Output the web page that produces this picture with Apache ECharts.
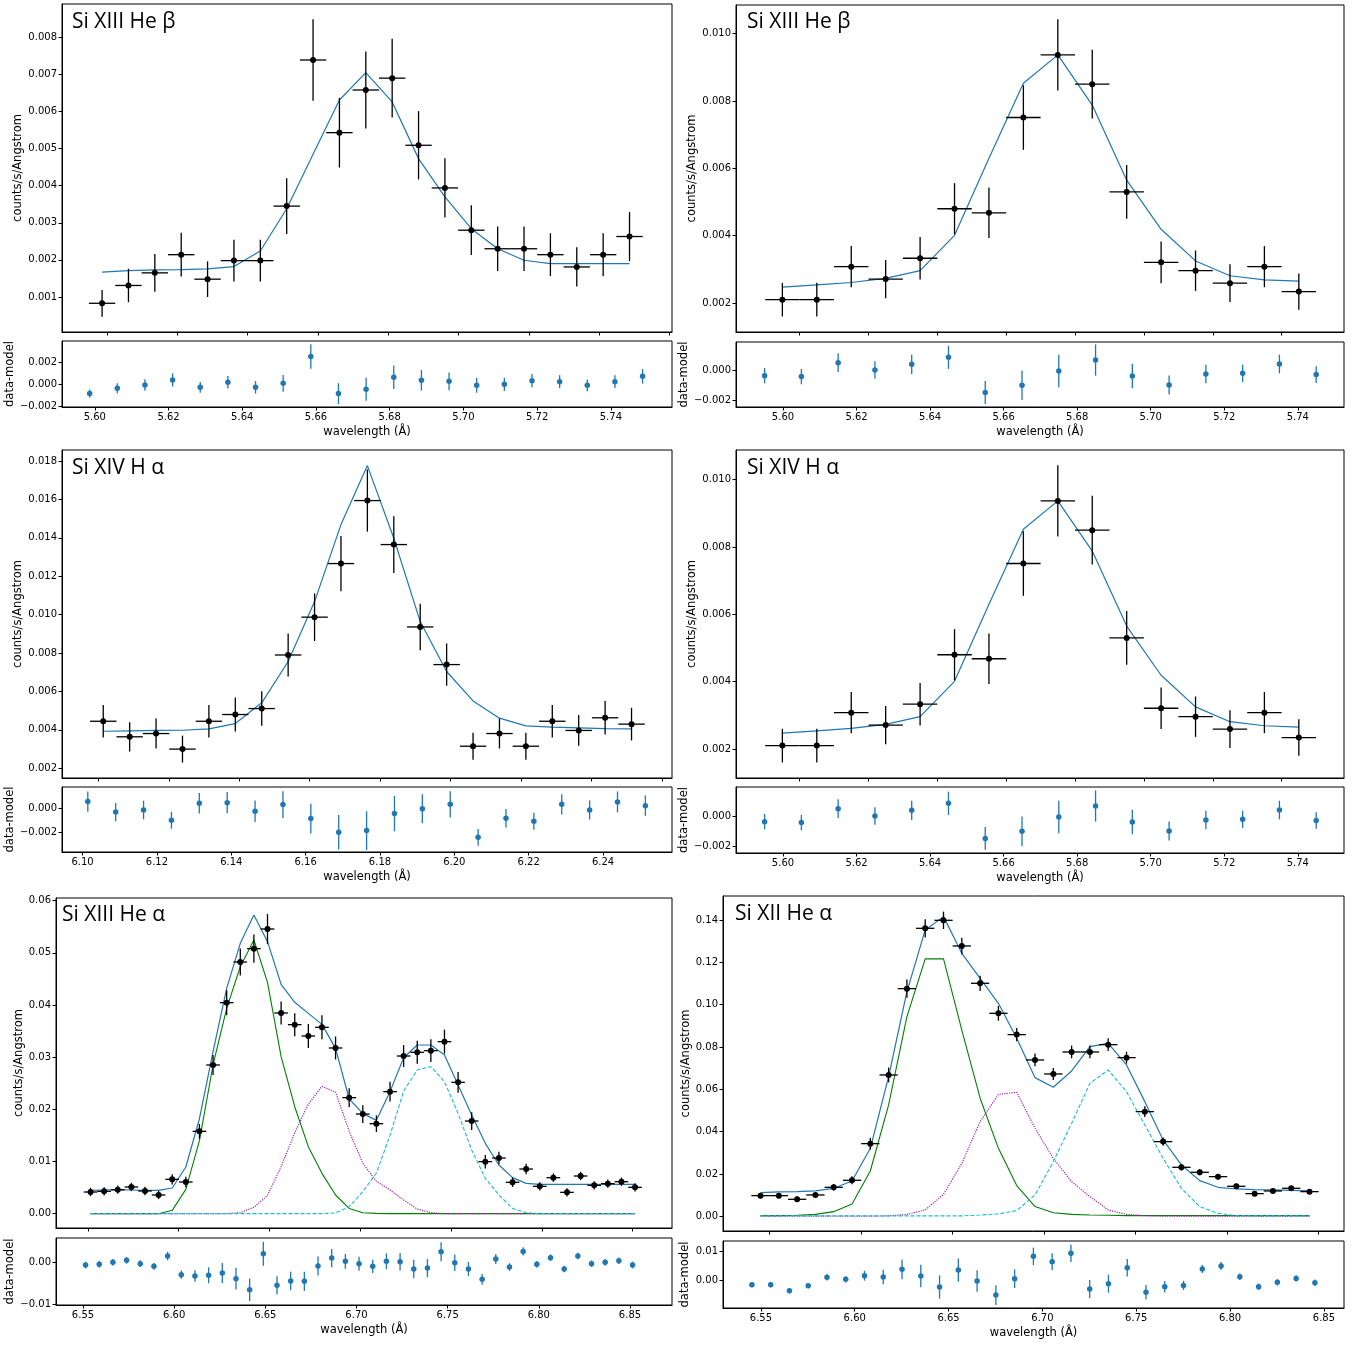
<!DOCTYPE html>
<html><head><meta charset="utf-8">
<script src="https://cdn.jsdelivr.net/npm/echarts@6/dist/echarts.min.js"></script>
<style>html,body{margin:0;padding:0;background:#fff}#c{width:1363px;height:1345px}</style>
</head><body><div id="c"></div>
<script>
// ---------------- DATA ----------------
// Panel 1 (top-left): Si XIII He beta
const TL_x = [5.5986,5.6061,5.6136,5.6211,5.6286,5.6361,5.6436,5.6511,5.6586,5.6661,5.6736,5.6811,5.6886,5.6961,5.7036,5.7111,5.7186,5.7261,5.7336,5.7411,5.7486];
const TL_y = [0.00083,0.00131,0.00165,0.00214,0.00148,0.00198,0.00198,0.00345,0.00739,0.00543,0.00658,0.0069,0.00509,0.00394,0.0028,0.0023,0.0023,0.00214,0.00181,0.00214,0.00263];
const TL_err = [0.00036,0.00045,0.00051,0.00059,0.00048,0.00056,0.00056,0.00075,0.0011,0.00094,0.00104,0.00106,0.00092,0.0008,0.00067,0.0006,0.0006,0.00058,0.00053,0.00058,0.00066];
const TL_model = [0.00167,0.00171,0.00173,0.00174,0.00176,0.00182,0.00224,0.00338,0.00485,0.00631,0.00705,0.00626,0.00473,0.0037,0.00284,0.0023,0.00199,0.0019,0.0019,0.0019,0.0019];
const TL_resid = [-0.00084,-0.00036,-0.00006,0.00039,-0.00027,0.00018,-0.00027,0.00009,0.0025,-0.00084,-0.00045,0.00063,0.00036,0.00027,-0.00009,0.0,0.00033,0.00024,-0.00009,0.00024,0.00072];
const TL_mainXTicks = [5.60,5.62,5.64,5.66,5.68,5.70,5.72,5.74,5.76];
const TL_resXTicks = [5.60,5.62,5.64,5.66,5.68,5.70,5.72,5.74];
const TL_mainYTicks = [0.001,0.002,0.003,0.004,0.005,0.006,0.007,0.008];
const TL_resYTicks = [-0.002,0,0.002];

// Panel 2 (top-right): Si XIII He beta
const TR_x = [5.595,5.605,5.615,5.625,5.635,5.645,5.655,5.665,5.675,5.685,5.695,5.705,5.715,5.725,5.735,5.745];
const TR_y = [0.0021,0.0021,0.00308,0.00271,0.00333,0.0048,0.00468,0.00751,0.00937,0.0085,0.0053,0.00321,0.00296,0.00259,0.00308,0.00234];
const TR_err = [0.0005,0.0005,0.00061,0.00057,0.00063,0.00076,0.00075,0.00096,0.00106,0.00102,0.0008,0.00062,0.0006,0.00056,0.00061,0.00054];
const TR_model = [0.00247,0.00254,0.00261,0.00273,0.00296,0.00401,0.0063,0.00853,0.00937,0.00788,0.00565,0.00419,0.00325,0.00281,0.00269,0.00265];
const TR_resid = [-0.00037,-0.00043,0.00048,0.0,0.00037,0.00083,-0.00146,-0.001,-0.00007,0.00065,-0.00039,-0.00098,-0.00026,-0.00022,0.00039,-0.0003];
const TR_mainXTicks = [5.60,5.62,5.64,5.66,5.68,5.70,5.72,5.74];
const TR_resXTicks = [5.60,5.62,5.64,5.66,5.68,5.70,5.72,5.74];
const TR_mainYTicks = [0.002,0.004,0.006,0.008,0.010];
const TR_resYTicks = [-0.002,0];

// Panel 3 (middle-left): Si XIV H alpha
const ML_x = [6.1014,6.1089,6.1164,6.1239,6.1314,6.1389,6.1464,6.1539,6.1614,6.1689,6.1764,6.1839,6.1914,6.1989,6.2064,6.2139,6.2214,6.2289,6.2364,6.2439,6.2514];
const ML_y = [0.00445,0.00364,0.00381,0.003,0.00445,0.0048,0.00511,0.0079,0.00987,0.01266,0.01594,0.01365,0.00936,0.0074,0.00315,0.00381,0.00315,0.00445,0.00397,0.00463,0.0043];
const ML_err = [0.00085,0.00076,0.00078,0.0007,0.00085,0.00089,0.0009,0.00112,0.00124,0.00144,0.00162,0.00148,0.00121,0.0011,0.0007,0.00078,0.0007,0.00085,0.0008,0.00087,0.00085];
const ML_model = [0.00393,0.00395,0.00397,0.00398,0.00405,0.00433,0.00541,0.00756,0.01068,0.01469,0.01776,0.01398,0.00964,0.00704,0.00551,0.00461,0.00421,0.00414,0.00411,0.00407,0.00405];
const ML_resid = [0.00056,-0.00031,-0.00014,-0.001,0.00042,0.00047,-0.00025,0.00031,-0.00086,-0.002,-0.00186,-0.00044,-0.00003,0.00033,-0.00242,-0.00083,-0.00108,0.00033,-0.00014,0.00053,0.00022];
const ML_mainXTicks = [6.10,6.12,6.14,6.16,6.18,6.20,6.22,6.24,6.26];
const ML_resXTicks = [6.10,6.12,6.14,6.16,6.18,6.20,6.22,6.24];
const ML_mainYTicks = [0.002,0.004,0.006,0.008,0.010,0.012,0.014,0.016,0.018];
const ML_resYTicks = [-0.002,0];

// Panel 4 (middle-right): Si XIV H alpha (same values as panel 2)
const MR_x = [5.595,5.605,5.615,5.625,5.635,5.645,5.655,5.665,5.675,5.685,5.695,5.705,5.715,5.725,5.735,5.745];
const MR_y = [0.0021,0.0021,0.00308,0.00271,0.00333,0.0048,0.00468,0.00751,0.00937,0.0085,0.0053,0.00321,0.00296,0.00259,0.00308,0.00234];
const MR_err = [0.0005,0.0005,0.00061,0.00057,0.00063,0.00076,0.00075,0.00096,0.00106,0.00102,0.0008,0.00062,0.0006,0.00056,0.00061,0.00054];
const MR_model = [0.00247,0.00254,0.00261,0.00273,0.00296,0.00401,0.0063,0.00853,0.00937,0.00788,0.00565,0.00419,0.00325,0.00281,0.00269,0.00265];
const MR_resid = [-0.00037,-0.00043,0.00048,0.0,0.00037,0.00083,-0.00146,-0.001,-0.00007,0.00065,-0.00039,-0.00098,-0.00026,-0.00022,0.00039,-0.0003];
const MR_mainYTicks = [0.002,0.004,0.006,0.008,0.010];

// Panel 5 (bottom-left): Si XIII He alpha
const BL_x = [6.5514,6.5589,6.5664,6.5739,6.5814,6.5889,6.5964,6.6039,6.6114,6.6189,6.6264,6.6339,6.6414,6.6489,6.6564,6.6639,6.6714,6.6789,6.6864,6.6939,6.7014,6.7089,6.7164,6.7239,6.7314,6.7389,6.7464,6.7539,6.7614,6.7689,6.7764,6.7839,6.7914,6.7989,6.8064,6.8139,6.8214,6.8289,6.8364,6.8439,6.8514];
const BL_y = [0.00415,0.00428,0.0046,0.00511,0.00435,0.00358,0.00658,0.00607,0.01578,0.0285,0.04045,0.04824,0.0508,0.05457,0.03847,0.03623,0.03406,0.03572,0.03176,0.02224,0.0191,0.01725,0.02339,0.03022,0.03093,0.03125,0.03297,0.02518,0.01776,0.00997,0.01067,0.00601,0.00856,0.00524,0.0069,0.00409,0.00722,0.00543,0.00575,0.00613,0.00505];
const BL_err = [0.0008,0.0008,0.0008,0.0008,0.0008,0.0008,0.001,0.001,0.0014,0.0019,0.0024,0.0026,0.0027,0.0029,0.0022,0.0022,0.0023,0.0023,0.0022,0.0018,0.0017,0.0016,0.0019,0.0021,0.0022,0.0022,0.0023,0.002,0.0017,0.0013,0.0012,0.0009,0.001,0.0008,0.0008,0.0008,0.0008,0.0008,0.0008,0.0008,0.0008];
const BL_model = [0.00447,0.00454,0.0046,0.00454,0.00447,0.00447,0.00492,0.00895,0.0182,0.03105,0.0432,0.05182,0.05725,0.05214,0.04396,0.04051,0.0384,0.03629,0.03169,0.02198,0.01923,0.01789,0.02339,0.0299,0.03233,0.03233,0.03042,0.02466,0.01891,0.01348,0.00933,0.0069,0.00581,0.00562,0.00562,0.00562,0.00562,0.00562,0.00562,0.00562,0.00562];
const BL_green = [0,0,0,0,0,0,0.00064,0.00466,0.014,0.0285,0.03936,0.04735,0.05246,0.04435,0.0301,0.0205,0.01284,0.00773,0.00358,0.001,0.00019,0.00005,0,0,0,0,0,0,0,0,0,0,0,0,0,0,0,0,0,0,0];
const BL_purple = [0,0,0,0,0,0,0,0,0,0,0,0.00019,0.00121,0.0035,0.009,0.0155,0.021,0.0244,0.0233,0.0158,0.00965,0.0062,0.00454,0.00262,0.00089,0.00019,0,0,0,0,0,0,0,0,0,0,0,0,0,0,0];
const BL_cyan = [0,0,0,0,0,0,0,0,0,0,0,0,0,0,0,0,0,0,0.00013,0.00134,0.00422,0.0078,0.01500,0.02350,0.02754,0.02818,0.0253,0.01923,0.0122,0.00677,0.00358,0.001,0.00019,0,0,0,0,0,0,0,0];
const BL_resid = [-0.00056,-0.0004,0.00008,0.00056,-0.00024,-0.00088,0.0016,-0.00288,-0.0032,-0.00304,-0.00248,-0.00384,-0.00648,0.00216,-0.00544,-0.0044,-0.00448,-0.0008,0.00112,0.00032,-0.00024,-0.00088,0.00032,0.00024,-0.00152,-0.00128,0.00264,0.0,-0.00152,-0.004,0.00088,-0.00104,0.00272,-0.0004,0.0012,-0.00152,0.0016,-0.00024,0.00008,0.00048,-0.00056];
const BL_mainXTicks = [6.55,6.60,6.65,6.70,6.75,6.80,6.85];
const BL_resXTicks = [6.55,6.60,6.65,6.70,6.75,6.80,6.85];
const BL_mainYTicks = [0,0.01,0.02,0.03,0.04,0.05,0.06];
const BL_resYTicks = [-0.01,0];

// Panel 6 (bottom-right): Si XII He alpha
const BR_x = [6.5452,6.5552,6.5652,6.5752,6.5852,6.5952,6.6052,6.6152,6.6252,6.6352,6.6452,6.6552,6.6652,6.6752,6.6852,6.6952,6.7052,6.7152,6.7252,6.7352,6.7452,6.7552,6.7652,6.7752,6.7852,6.7952,6.8052,6.8152,6.8252,6.8352,6.8452];
const BR_y = [0.00976,0.00976,0.00803,0.01008,0.0137,0.01701,0.03433,0.06677,0.10756,0.13606,0.13984,0.12772,0.11008,0.0959,0.08583,0.07386,0.06724,0.07764,0.07764,0.0811,0.07496,0.04945,0.03528,0.02315,0.02079,0.01874,0.01417,0.01071,0.01197,0.01323,0.01165];
const BR_err = [0.0013,0.0013,0.0013,0.0013,0.0016,0.0019,0.0028,0.0035,0.0043,0.0043,0.0041,0.0039,0.0036,0.0035,0.0031,0.003,0.0028,0.003,0.003,0.003,0.0028,0.0025,0.002,0.0016,0.0014,0.0013,0.0013,0.0011,0.0011,0.0011,0.0011];
const BR_model = [0.01118,0.0115,0.01165,0.01197,0.01323,0.01669,0.03213,0.06598,0.10614,0.13528,0.14157,0.12425,0.11244,0.10063,0.08409,0.06551,0.06094,0.06866,0.08016,0.08173,0.0715,0.05417,0.03606,0.02425,0.01685,0.0137,0.01291,0.0126,0.01244,0.01228,0.01197];
const BR_green = [0.0003,0.0003,0.0005,0.0009,0.0022,0.0058,0.0214,0.0526,0.0943,0.1216,0.1216,0.088,0.0558,0.0321,0.0145,0.0046,0.0017,0.0009,0.0006,0.0005,0.0003,0.0003,0.0003,0.0003,0.0003,0.0003,0.0003,0.0003,0.0003,0.0003,0.0003];
const BR_purple = [0.0001,0.0001,0.0001,0.0001,0.0001,0.0001,0.0001,0.0002,0.0009,0.003,0.0104,0.025,0.0447,0.0576,0.0586,0.0416,0.0274,0.0164,0.0093,0.003,0.0009,0.0003,0.0001,0.0001,0.0001,0.0001,0.0001,0.0001,0.0001,0.0001,0.0001];
const BR_cyan = [0.0002,0.0002,0.0002,0.0002,0.0002,0.0002,0.0002,0.0002,0.0002,0.0002,0.0002,0.0002,0.0006,0.0011,0.0027,0.0101,0.0258,0.0439,0.0628,0.0691,0.0589,0.0432,0.0274,0.0132,0.0046,0.0014,0.0003,0.0002,0.0002,0.0002,0.0002];
const BR_resid = [-0.00138,-0.00138,-0.00345,-0.00172,0.00115,0.00046,0.00172,0.00126,0.00391,0.00161,-0.00218,0.00368,-0.00011,-0.00494,0.00069,0.00839,0.00655,0.00943,-0.00287,-0.00103,0.00448,-0.00402,-0.00207,-0.00161,0.00402,0.00506,0.00138,-0.00207,-0.00057,0.0008,-0.00069];
const BR_residErr = [0.0009,0.0009,0.0009,0.0009,0.0011,0.0011,0.0017,0.0025,0.0034,0.0039,0.004,0.004,0.0037,0.0034,0.0032,0.003,0.0029,0.003,0.0031,0.0031,0.003,0.0025,0.002,0.0016,0.0014,0.0014,0.0011,0.0011,0.0011,0.0011,0.0011];
const BR_mainXTicks = [6.55,6.60,6.65,6.70,6.75,6.80,6.85];
const BR_resXTicks = [6.55,6.60,6.65,6.70,6.75,6.80,6.85];
const BR_mainYTicks = [0,0.02,0.04,0.06,0.08,0.10,0.12,0.14];
const BR_resYTicks = [0,0.01];

// ---------------- CHART ----------------
const C0 = '#1f77b4';
const grids = [], xAxes = [], yAxes = [], series = [], graphics = [];
const TICK_FONT = 'DejaVu Sans';

function fmt(d) {
  return function (v) {
    const s = Math.abs(v).toFixed(d);
    return (v < -1e-12 ? '\u2212' : '') + s;
  };
}
function addGrid(b) {
  grids.push({left: b[0], top: b[1], width: b[2] - b[0], height: b[3] - b[1], show: true,
    borderColor: '#000', borderWidth: 1, backgroundColor: 'transparent'});
  return grids.length - 1;
}
function addX(gi, r, ticks, dec, showLabels, name) {
  xAxes.push({type: 'value', gridIndex: gi, min: r[0], max: r[1], position: 'bottom',
    axisLine: {show: true, onZero: false, lineStyle: {color: '#000', width: 1}},
    axisTick: {show: true, inside: false, length: 3.5, customValues: ticks, lineStyle: {color: '#000', width: 1}},
    axisLabel: {show: showLabels, customValues: ticks, formatter: fmt(dec), fontFamily: TICK_FONT, fontSize: 10, color: '#000', margin: 5},
    splitLine: {show: false},
    name: name || '', nameLocation: 'middle', nameGap: 19,
    nameTextStyle: {fontFamily: TICK_FONT, fontSize: 11.5, color: '#000'}});
  return xAxes.length - 1;
}
function addY(gi, r, ticks, dec, name, gap) {
  yAxes.push({type: 'value', gridIndex: gi, min: r[0], max: r[1], position: 'left',
    axisLine: {show: true, onZero: false, lineStyle: {color: '#000', width: 1}},
    axisTick: {show: true, inside: false, length: 3.5, customValues: ticks, lineStyle: {color: '#000', width: 1}},
    axisLabel: {show: true, customValues: ticks, formatter: fmt(dec), fontFamily: TICK_FONT, fontSize: 10, color: '#000', margin: 5},
    splitLine: {show: false},
    name: name, nameLocation: 'middle', nameGap: gap, nameRotate: 90,
    nameTextStyle: {fontFamily: TICK_FONT, fontSize: 11.5, color: '#000'}});
  return yAxes.length - 1;
}
function pairs(xs, ys) { return xs.map((v, i) => [v, ys[i]]); }
function lineSeries(xi, yi, xs, ys, color, type, width, z) {
  series.push({type: 'line', xAxisIndex: xi, yAxisIndex: yi, data: pairs(xs, ys), symbol: 'none',
    silent: true, animation: false, z: z, clip: true,
    lineStyle: {color: color, width: width, type: type}});
}
function errSeries(xi, yi, xs, ys, es, xe, color, lw) {
  series.push({type: 'custom', xAxisIndex: xi, yAxisIndex: yi, silent: true, animation: false, z: 4,
    data: xs.map((v, i) => [v, ys[i], es[i], xe]),
    encode: {x: 0, y: 1},
    renderItem: function (params, api) {
      const x = api.value(0), y = api.value(1), e = api.value(2), h = api.value(3);
      const p1 = api.coord([x, y - e]), p2 = api.coord([x, y + e]);
      const ch = [{type: 'line', shape: {x1: p1[0], y1: p1[1], x2: p2[0], y2: p2[1]},
        style: {stroke: color, lineWidth: lw}}];
      if (h > 0) {
        const q1 = api.coord([x - h, y]), q2 = api.coord([x + h, y]);
        ch.push({type: 'line', shape: {x1: q1[0], y1: q1[1], x2: q2[0], y2: q2[1]},
          style: {stroke: color, lineWidth: lw}});
      }
      return {type: 'group', children: ch};
    }});
}
function scatter(xi, yi, xs, ys, color, size) {
  series.push({type: 'scatter', xAxisIndex: xi, yAxisIndex: yi, data: pairs(xs, ys), symbol: 'circle',
    symbolSize: size, silent: true, animation: false, z: 5, itemStyle: {color: color, opacity: 1}});
}
function title(x, y, text) {
  graphics.push({type: 'text', x: x, y: y, z: 10, silent: true,
    style: {text: text, fontFamily: 'Open Sans', fontSize: 21, fill: '#000',
      align: 'left', verticalAlign: 'middle', textAlign: 'left', textVerticalAlign: 'middle'}});
}

function panel(c) {
  const gm = addGrid(c.mainBox), gr = addGrid(c.resBox);
  const xm = addX(gm, c.mxr, c.mxt, 2, false, '');
  const ym = addY(gm, c.myr, c.myt, c.mdec, 'counts/s/Angstrom', c.mGap);
  const xr = addX(gr, c.rxr, c.rxt, 2, true, 'wavelength (\u00c5)');
  const yr = addY(gr, c.ryr, c.ryt, c.rdec, 'data-model', c.rGap);
  if (c.green) lineSeries(xm, ym, c.x, c.green, '#008000', 'solid', 1.1, 1);
  if (c.purple) lineSeries(xm, ym, c.x, c.purple, '#a020b0', 'dotted', 1.2, 1);
  if (c.cyan) lineSeries(xm, ym, c.x, c.cyan, '#17becf', [4, 2], 1.1, 1);
  lineSeries(xm, ym, c.x, c.model, C0, 'solid', 1.2, 2);
  errSeries(xm, ym, c.x, c.y, c.err, c.xe, '#000', 1.3);
  scatter(xm, ym, c.x, c.y, '#000', 6);
  errSeries(xr, yr, c.x, c.resid, c.rerr || c.err, 0, C0, 1.3);
  scatter(xr, yr, c.x, c.resid, C0, 5.5);
  title(c.tpos[0], c.tpos[1], c.title);
}

panel({title: 'Si XIII He \u03b2', tpos: [72, 22],
  mainBox: [62, 4, 672, 332], resBox: [62, 341, 672, 407],
  mxr: [5.5872, 5.76068], mxt: TL_mainXTicks, myr: [0.0000556, 0.008899], myt: TL_mainYTicks, mdec: 3, mGap: 37,
  rxr: [5.5911, 5.75658], rxt: TL_resXTicks, ryr: [-0.002045, 0.003901], ryt: TL_resYTicks, rdec: 3, rGap: 46,
  x: TL_x, y: TL_y, err: TL_err, xe: 0.00375, model: TL_model, resid: TL_resid});

panel({title: 'Si XIII He \u03b2', tpos: [747, 22],
  mainBox: [736, 5, 1344, 332], resBox: [736, 342, 1344, 407],
  mxr: [5.58153, 5.75812], mxt: TR_mainXTicks, myr: [0.001139, 0.010852], myt: TR_mainYTicks, mdec: 3, mGap: 36,
  rxr: [5.58722, 5.75256], rxt: TR_resXTicks, ryr: [-0.002413, 0.001826], ryt: TR_resYTicks, rdec: 3, rGap: 46,
  x: TR_x, y: TR_y, err: TR_err, xe: 0.005, model: TR_model, resid: TR_resid});

panel({title: 'Si XIV H \u03b1', tpos: [72, 468],
  mainBox: [62, 450, 672, 778], resBox: [62, 787, 672, 852],
  mxr: [6.08969, 6.26289], mxt: ML_mainXTicks, myr: [0.001495, 0.018573], myt: ML_mainYTicks, mdec: 3, mGap: 37,
  rxr: [6.09446, 6.25856], rxt: ML_resXTicks, ryr: [-0.003642, 0.001775], ryt: ML_resYTicks, rdec: 3, rGap: 46,
  x: ML_x, y: ML_y, err: ML_err, xe: 0.00375, model: ML_model, resid: ML_resid});

panel({title: 'Si XIV H \u03b1', tpos: [747, 468],
  mainBox: [736, 450, 1344, 778], resBox: [736, 787, 1344, 853],
  mxr: [5.58153, 5.75812], mxt: TR_mainXTicks, myr: [0.001138, 0.010882], myt: MR_mainYTicks, mdec: 3, mGap: 36,
  rxr: [5.58722, 5.75256], rxt: TR_resXTicks, ryr: [-0.002414, 0.001892], ryt: TR_resYTicks, rdec: 3, rGap: 46,
  x: MR_x, y: MR_y, err: MR_err, xe: 0.005, model: MR_model, resid: MR_resid});

panel({title: 'Si XIII He \u03b1', tpos: [62, 915],
  mainBox: [56, 898, 672, 1228], resBox: [56, 1238, 672, 1305],
  mxr: [6.53237, 6.87176], mxt: BL_mainXTicks, myr: [-0.002747, 0.060511], myt: BL_mainYTicks, mdec: 2, mGap: 30,
  rxr: [6.53519, 6.87304], rxt: BL_resXTicks, ryr: [-0.010168, 0.005938], ryt: BL_resYTicks, rdec: 2, rGap: 39,
  x: BL_x, y: BL_y, err: BL_err, xe: 0.00375, model: BL_model, resid: BL_resid,
  green: BL_green, purple: BL_purple, cyan: BL_cyan});

panel({title: 'Si XII He \u03b1', tpos: [735, 914],
  mainBox: [723, 896, 1344, 1231], resBox: [723, 1241, 1344, 1308],
  mxr: [6.5247, 6.86404], mxt: BR_mainXTicks, myr: [-0.006945, 0.15132], myt: BR_mainYTicks, mdec: 2, mGap: 30,
  rxr: [6.5298, 6.86071], rxt: BR_resXTicks, ryr: [-0.00941, 0.01369], ryt: BR_resYTicks, rdec: 2, rGap: 32,
  x: BR_x, y: BR_y, err: BR_err, rerr: BR_residErr, xe: 0.005, model: BR_model, resid: BR_resid,
  green: BR_green, purple: BR_purple, cyan: BR_cyan});

const chart = echarts.init(document.getElementById('c'), null, {renderer: 'canvas', width: 1363, height: 1345});
chart.setOption({animation: false, backgroundColor: '#fff', grid: grids, xAxis: xAxes, yAxis: yAxes, series: series, graphic: graphics});
</script>
</body></html>
